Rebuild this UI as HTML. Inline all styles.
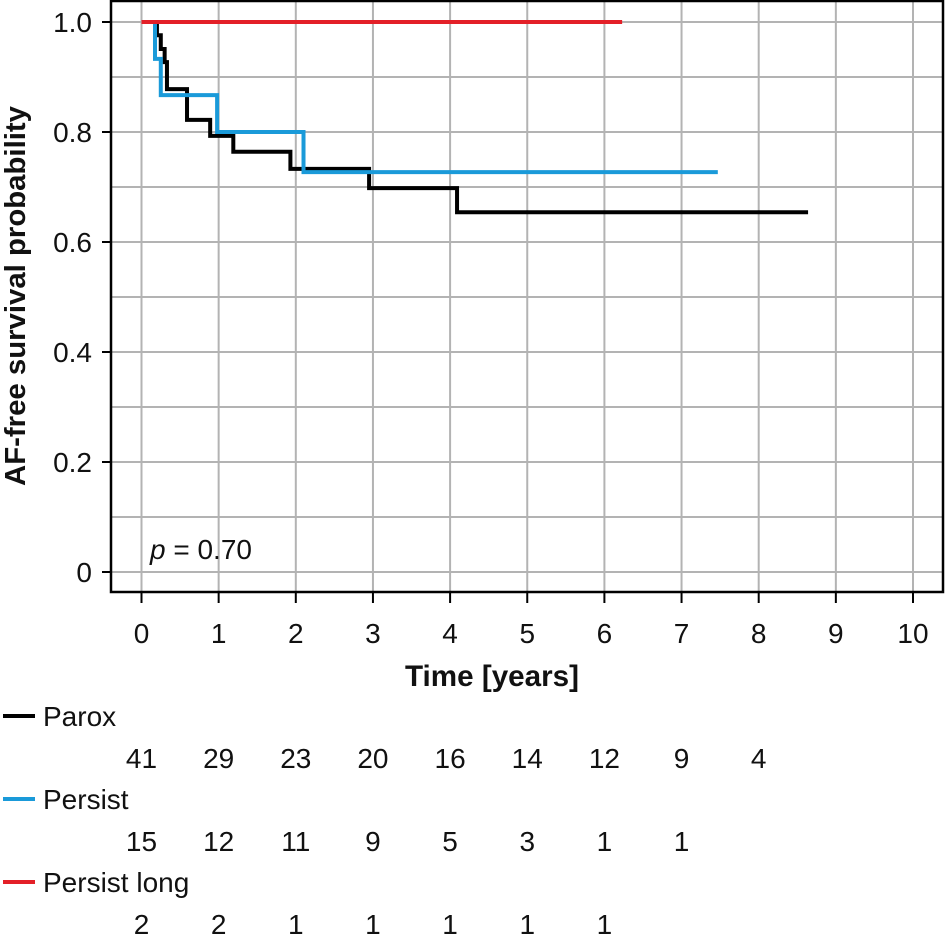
<!DOCTYPE html>
<html><head><meta charset="utf-8"><style>
html,body{margin:0;padding:0;background:#fff;}
svg text{font-family:"Liberation Sans",sans-serif;fill:#111;}
</style></head><body>
<svg id="chart" width="945" height="936" viewBox="0 0 945 936" xmlns="http://www.w3.org/2000/svg">
<g id="grid"></g>
<g id="curves"></g>
<rect x="111" y="1" width="832" height="591" fill="none" stroke="#000" stroke-width="2.5"/>
<g id="axes"></g>
<text transform="translate(25,296) rotate(-90)" text-anchor="middle" font-size="29" font-weight="bold" textLength="380" lengthAdjust="spacingAndGlyphs">AF-free survival probability</text>
<text x="492" y="686" text-anchor="middle" font-size="30" font-weight="bold" textLength="174" lengthAdjust="spacingAndGlyphs">Time [years]</text>
<text x="150" y="559" font-size="28"><tspan font-style="italic">p</tspan> = 0.70</text>
<g id="risk"></g>
</svg>
<script>
const xTicks=[0,1,2,3,4,5,6,7,8,9,10];
const yTicks=[0,0.2,0.4,0.6,0.8,1.0];
const yTickLabels=["0","0.2","0.4","0.6","0.8","1.0"];
const paroxTimes=[0,0.2,0.25,0.3,0.33,0.59,0.89,1.19,1.93,2.95,4.09,8.64];
const paroxSurv=[1,0.976,0.951,0.927,0.878,0.822,0.793,0.764,0.733,0.698,0.654,0.654];
const persistTimes=[0,0.175,0.25,0.98,2.1,7.47];
const persistSurv=[1,0.933,0.867,0.80,0.727,0.727];
const longTimes=[0,6.23];
const longSurv=[1,1];
const seriesNames=["Parox","Persist","Persist long"];
const paroxRisk=[41,29,23,20,16,14,12,9,4];
const persistRisk=[15,12,11,9,5,3,1,1];
const longRisk=[2,2,1,1,1,1,1];

const NS="http://www.w3.org/2000/svg";
const X=t=>141.5+t*77.15;
const Y=s=>572-s*550;
function mk(tag,attrs,parent){const e=document.createElementNS(NS,tag);for(const k in attrs)e.setAttribute(k,attrs[k]);parent.appendChild(e);return e;}
const grid=document.getElementById('grid'),axes=document.getElementById('axes'),curves=document.getElementById('curves'),risk=document.getElementById('risk');
for(let i=0;i<=10;i++){
  const g=mk('line',{x1:111,x2:943,y1:Y(i/10),y2:Y(i/10),stroke:'#b3b3b3','stroke-width':2},grid);
  
  
}
xTicks.forEach(t=>{
  const g=mk('line',{x1:X(t),x2:X(t),y1:0,y2:592,stroke:'#b3b3b3','stroke-width':2},grid);
  
  
  const tk=mk('line',{x1:X(t),x2:X(t),y1:592,y2:603,stroke:'#000','stroke-width':2},axes);
  
  
  const tx=mk('text',{x:X(t),y:643,'text-anchor':'middle','font-size':28},axes);
  
  
  tx.textContent=String(t);
});
yTicks.forEach((v,i)=>{
  const tk=mk('line',{x1:102,x2:111,y1:Y(v),y2:Y(v),stroke:'#000','stroke-width':2},axes);
  
  
  const tx=mk('text',{x:92,y:Y(v)+10,'text-anchor':'end','font-size':28},axes);
  
  
  tx.textContent=yTickLabels[i];
});
function step(ts,ss){let d='M'+X(ts[0])+','+Y(ss[0]);for(let i=1;i<ts.length;i++){d+=' H'+X(ts[i])+' V'+Y(ss[i]);}return d;}
const p1=mk('path',{d:step(paroxTimes,paroxSurv),fill:'none',stroke:'#000','stroke-width':4},curves);


const p2=mk('path',{d:step(persistTimes,persistSurv),fill:'none',stroke:'#1a9ad9','stroke-width':4},curves);


const p3=mk('path',{d:step(longTimes,longSurv),fill:'none',stroke:'#e32028','stroke-width':4},curves);


const colors=['#000','#1a9ad9','#e32028'];
const risks=[paroxRisk,persistRisk,longRisk];
const rowY=[716,799,882];
seriesNames.forEach((n,i)=>{
  const l=mk('line',{x1:3,x2:35,y1:rowY[i],y2:rowY[i],stroke:colors[i],'stroke-width':4},risk);
  
  
  const t=mk('text',{x:43,y:rowY[i]+10,'font-size':28},risk);
  
  
  t.textContent=n;
  risks[i].forEach((v,j)=>{
    const c=mk('text',{x:X(j),y:rowY[i]+52,'text-anchor':'middle','font-size':28},risk);
    
    
    c.textContent=String(v);
  });
});
</script>
</body></html>
